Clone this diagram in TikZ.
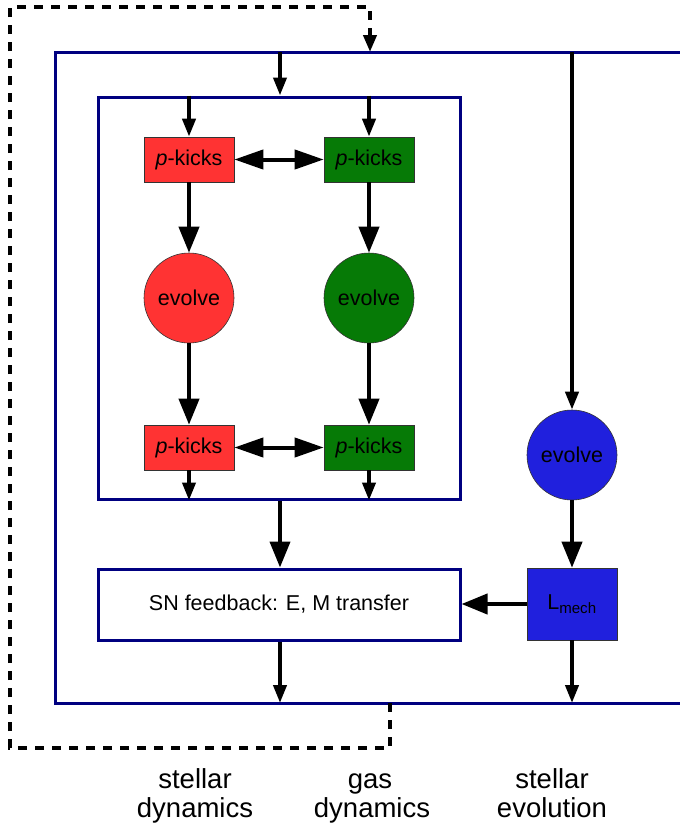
\documentclass[tikz,border=0pt]{standalone}
\usepackage{fontspec}
\setmainfont{Liberation Sans}
\usetikzlibrary{arrows.meta}
\definecolor{framenavy}{HTML}{000080}
\definecolor{starred}{HTML}{FF3333}
\definecolor{gasgreen}{HTML}{067A06}
\definecolor{evoblue}{HTML}{2020DD}
\tikzset{
  frame/.style={draw=framenavy, line width=3pt},
  boxfont/.style={font=\fontsize{21.5}{24}\selectfont},
  kickbox/.style={draw=black!80, line width=0.6pt, minimum width=90pt, minimum height=45pt, inner sep=0pt, boxfont},
  evolvecircle/.style={circle, draw=black!80, line width=0.6pt, minimum size=90pt, inner sep=0pt, boxfont},
  bigflow/.style={line width=4pt, -{Triangle[length=26pt,width=20pt]}},
  smallflow/.style={line width=4pt, -{Triangle[length=18pt,width=13pt]}},
  exchange/.style={line width=4pt, {Triangle[length=29pt,width=19pt]}-{Triangle[length=29pt,width=19pt]}},
  loopback/.style={line width=4pt, dash pattern=on 9pt off 8pt, -{Triangle[length=17pt,width=13pt]}},
  columnlabel/.style={anchor=base, inner sep=0pt, font=\fontsize{27.5}{29}\selectfont}
}
\begin{document}
\begin{tikzpicture}[x=1pt,y=-1pt]
\useasboundingbox (0,0) rectangle (680,825);

% outer frame, open to the right
\draw[frame] (680,52) -- (55,52) -- (55,703) -- (680,703);
\coordinate (outerTopA) at (280,52);
\coordinate (outerTopB) at (572,52);
\coordinate (outerTopC) at (370,52);
\coordinate (outerBotA) at (280,703);
\coordinate (outerBotB) at (572,703);
\coordinate (outerBotC) at (390,703);

% inner box for the coupled dynamics
\node[frame, minimum width=362pt, minimum height=402pt, inner sep=0pt] (inner) at (279,298) {};
\node[frame, minimum width=362pt, minimum height=71pt, inner sep=0pt, boxfont] (sn) at (279,604.5) {SN feedback: E, M transfer};

% stellar dynamics column
\node[kickbox, fill=starred] (rk1) at (189,159.5) {\textit{p}-kicks};
\node[evolvecircle, fill=starred] (rev) at (189,298) {evolve};
\node[kickbox, fill=starred] (rk2) at (189,447.5) {\textit{p}-kicks};

% gas dynamics column
\node[kickbox, fill=gasgreen] (gk1) at (369,159.5) {\textit{p}-kicks};
\node[evolvecircle, fill=gasgreen] (gev) at (369,298) {evolve};
\node[kickbox, fill=gasgreen] (gk2) at (369,447.5) {\textit{p}-kicks};

% stellar evolution column
\node[evolvecircle, fill=evoblue] (bev) at (572,455) {evolve};
\node[kickbox, fill=evoblue, minimum height=72pt] (lmech) at (572,604) {L\textsubscript{mech}};

% flows
\draw[smallflow] (outerTopA) -- (inner.north -| outerTopA);
\draw[smallflow] (inner.north -| rk1) -- (rk1.north);
\draw[smallflow] (inner.north -| gk1) -- (gk1.north);
\draw[bigflow] (rk1) -- (rev);
\draw[bigflow] (gk1) -- (gev);
\draw[bigflow] (rev) -- (rk2);
\draw[bigflow] (gev) -- (gk2);
\draw[smallflow] (rk2.south) -- (inner.south -| rk2);
\draw[smallflow] (gk2.south) -- (inner.south -| gk2);
\draw[exchange] (rk1) -- (gk1);
\draw[exchange] (rk2) -- (gk2);
\draw[bigflow] (inner.south -| outerTopA) -- (sn.north -| outerTopA);
\draw[smallflow] (outerTopB) -- (bev);
\draw[bigflow] (bev) -- (lmech);
\draw[bigflow] (lmech) -- (sn.east |- lmech);
\draw[smallflow] (sn.south -| outerBotA) -- (outerBotA);
\draw[smallflow] (lmech) -- (outerBotB);

% loop back to the next step
\draw[loopback] (outerBotC) -- (390,748) -- (10,748) -- (10,7) -- (370,7) -- (outerTopC);

% column captions
\node[columnlabel] (labSDa) at (195,788) {stellar};
\node[columnlabel] (labSDb) at (195,817) {dynamics};
\node[columnlabel] (labGDa) at (370,788) {gas};
\node[columnlabel] (labGDb) at (372,817) {dynamics};
\node[columnlabel] (labSEa) at (552,788) {stellar};
\node[columnlabel] (labSEb) at (552,817) {evolution};
\end{tikzpicture}
\end{document}
